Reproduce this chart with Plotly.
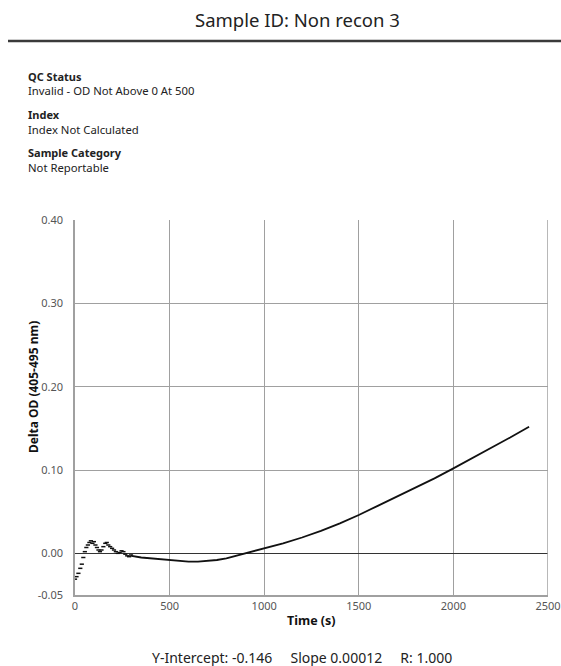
import plotly.graph_objects as go

# ---- data ----
early_time = [0, 8, 18, 28, 36, 44, 52, 60, 68, 76, 84, 92, 100, 108, 116, 124, 132,
              140, 150, 160, 168, 176, 186, 196, 206, 216, 226, 236, 246, 256, 266,
              276, 286, 296]
early_od = [-0.031, -0.028, -0.024, -0.018, -0.013, -0.005, 0.002, 0.007, 0.010, 0.013,
            0.015, 0.012, 0.014, 0.010, 0.007, 0.004, 0.002, 0.004, 0.008, 0.012, 0.013,
            0.010, 0.008, 0.006, 0.004, 0.002, 0.000, 0.001, 0.003, 0.002, -0.001,
            -0.003, -0.004, -0.002]

main_time = [300, 350, 400, 450, 500, 550, 600, 650, 700, 750, 800, 850, 900, 950,
             1000, 1100, 1200, 1300, 1400, 1500, 1600, 1700, 1800, 1900, 2000, 2100,
             2200, 2300, 2400]
main_od = [-0.003, -0.005, -0.006, -0.007, -0.008, -0.009, -0.010, -0.010, -0.009,
           -0.008, -0.006, -0.003, 0.000, 0.003, 0.006, 0.012, 0.019, 0.027, 0.036,
           0.046, 0.057, 0.068, 0.079, 0.090, 0.102, 0.114, 0.126, 0.139, 0.152]

x_ticks = [0, 500, 1000, 1500, 2000, 2500]
y_ticks = [-0.05, 0.00, 0.10, 0.20, 0.30, 0.40]
y_tick_labels = ["-0.05", "0.00", "0.10", "0.20", "0.30", "0.40"]

title_text = "Sample ID: Non recon 3"
info = [("QC Status", "Invalid - OD Not Above 0 At 500"),
        ("Index", "Index Not Calculated"),
        ("Sample Category", "Not Reportable")]
footer_text = "Y-Intercept: -0.146&nbsp;&nbsp;&nbsp;&nbsp;&nbsp;Slope 0.00012&nbsp;&nbsp;&nbsp;&nbsp;&nbsp;R: 1.000"

# ---- layout geometry (pixels) ----
W, H = 561, 666
L, R, T, B = 75, 13, 220, 71
pw, ph = W - L - R, H - T - B

def px(x):
    return (x - L) / pw

def py(y):
    return (H - B - y) / ph

FONT = "Noto Sans"
GRID = "#a0a0a0"
fig = go.Figure()

fig.add_trace(go.Scatter(x=early_time, y=early_od, mode="markers",
                         marker=dict(color="#111", size=3, symbol="line-ew-open",
                                     line=dict(width=1.5, color="#111")),
                         showlegend=False, hoverinfo="x+y"))
fig.add_trace(go.Scatter(x=[early_time[-1]] + main_time, y=[early_od[-1]] + main_od,
                         mode="lines", line=dict(color="#111", width=1.8),
                         showlegend=False))

fig.update_xaxes(range=[0, 2500], tickvals=x_ticks, showgrid=True, gridcolor=GRID,
                 gridwidth=1, showline=True, linecolor=GRID, linewidth=1.5,
                 mirror=False, zeroline=False, ticks="", ticklabelstandoff=0,
                 automargin=False,
                 tickfont=dict(family=FONT, size=11, color="#555"))
fig.update_yaxes(range=[-0.05, 0.40], tickvals=y_ticks, ticktext=y_tick_labels,
                 showgrid=True, gridcolor=GRID, gridwidth=1, showline=True,
                 linecolor=GRID, linewidth=1.5, zeroline=True, zerolinecolor="#333",
                 zerolinewidth=1.3, ticks="", ticklabelstandoff=8, automargin=False,
                 tickfont=dict(family=FONT, size=11, color="#555"))

shapes = [
    dict(type="line", xref="paper", yref="paper", x0=px(8), x1=px(561), y0=py(41), y1=py(41),
         line=dict(color="#3a3a3a", width=2.5)),
    dict(type="line", xref="x", yref="paper", x0=2500, x1=2500, y0=0, y1=1,
         line=dict(color=GRID, width=1.5)),
]

ann = [
    dict(text=title_text, x=px(297), y=py(19), xref="paper", yref="paper",
         showarrow=False, xanchor="center", yanchor="middle",
         font=dict(family=FONT, size=18.5, color="#222")),
    dict(text="<b>Delta OD (405-495 nm)</b>", x=px(33), y=py(387), xref="paper",
         yref="paper", showarrow=False, textangle=-90, xanchor="center",
         yanchor="middle", font=dict(family=FONT, size=12, color="#111")),
    dict(text="<b>Time (s)</b>", x=px(311), y=py(620), xref="paper", yref="paper",
         showarrow=False, xanchor="center", yanchor="middle",
         font=dict(family=FONT, size=12.5, color="#111")),
    dict(text=footer_text, x=px(302), y=py(657), xref="paper", yref="paper",
         showarrow=False, xanchor="center", yanchor="middle",
         font=dict(family=FONT, size=14, color="#222")),
]
ys = [(76, 90), (115, 129), (153, 167)]
for (head, val), (y1, y2) in zip(info, ys):
    ann.append(dict(text="<b>" + head + "</b>", x=px(26), y=py(y1), xref="paper",
                    yref="paper", showarrow=False, xanchor="left", yanchor="middle",
                    font=dict(family=FONT, size=11, color="#222")))
    ann.append(dict(text=val, x=px(26), y=py(y2), xref="paper", yref="paper",
                    showarrow=False, xanchor="left", yanchor="middle",
                    font=dict(family=FONT, size=11.3, color="#222")))

fig.update_layout(width=W, height=H, margin=dict(l=L, r=R, t=T, b=B),
                  paper_bgcolor="white", plot_bgcolor="white", autosize=False,
                  shapes=shapes, annotations=ann, showlegend=False)

post = """
document.documentElement.style.overflow='hidden';
document.body.style.margin='0';
document.body.style.overflow='hidden';
"""

fig.write_html("out.html",
               config={"responsive": False, "displayModeBar": False},
               post_script=post)
